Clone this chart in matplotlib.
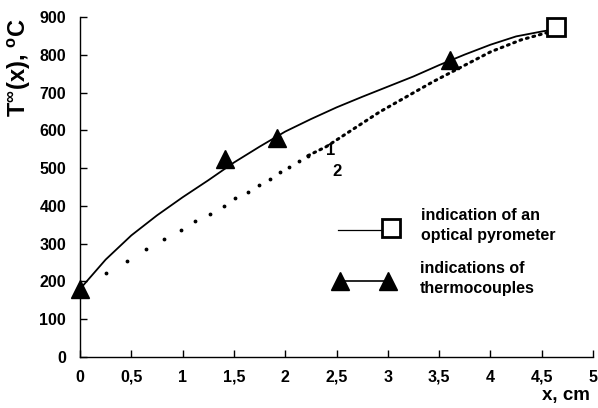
import matplotlib.pyplot as plt
import numpy as np

plt.rcParams['font.family'] = ['Liberation Sans', 'DejaVu Sans']
plt.rcParams['font.weight'] = 'bold'
plt.rcParams['font.size'] = 10
plt.rcParams['mathtext.fontset'] = 'custom'
plt.rcParams['mathtext.rm'] = 'Liberation Sans:bold'
plt.rcParams['mathtext.bf'] = 'Liberation Sans:bold'

# curve 1 (solid, through thermocouple readings)
x1 = [0, 0.25, 0.5, 0.75, 1.0, 1.25, 1.5, 1.75, 2.0, 2.25, 2.5, 2.75, 3.0,
      3.25, 3.5, 3.75, 4.0, 4.25, 4.5, 4.61]
y1 = [180, 258, 322, 375, 423, 468, 515, 557, 597, 630, 661, 689, 716,
      743, 773, 801, 827, 849, 862, 867]

# curve 2 (dotted)
x2 = [0, 0.25, 0.46, 0.64, 0.82, 0.98, 1.12, 1.27, 1.40, 1.51, 1.64, 1.74,
      1.85, 1.95, 2.04, 2.13, 2.22]
y2 = [180, 223, 254, 285, 312, 336, 360, 380, 400, 420, 438, 456,
      472, 489, 504, 519, 533]
x2_tail = [2.22, 2.40, 2.92, 3.44, 3.66, 4.00, 4.30, 4.58]
y2_tail = [533, 557, 649, 729, 760, 808, 840, 861]

# measured points
x_tc = [0, 1.41, 1.92, 3.61]
y_tc = [180, 524, 580, 786]
x_pyro = [4.64]
y_pyro = [874]

xticks = [0, 0.5, 1, 1.5, 2, 2.5, 3, 3.5, 4, 4.5, 5]
xticklabels = ['0', '0,5', '1', '1,5', '2', '2,5', '3', '3,5', '4', '4,5', '5']
yticks = [0, 100, 200, 300, 400, 500, 600, 700, 800, 900]

fig = plt.figure(figsize=(5.98, 4.08), dpi=100)
ax = fig.add_axes([0.1338, 0.125, 0.858, 0.833])

ax.plot(x1, y1, '-', color='black', linewidth=1.3)
ax.plot(x2, y2, '.', color='black', markersize=3.5)
ax.plot(x2_tail, y2_tail, color='black', linewidth=2.2, linestyle=(0, (0.6, 1.6)),
        dash_capstyle='round')
ax.plot(x_tc, y_tc, '^', color='black', markersize=13, clip_on=False)
ax.plot(x_pyro, y_pyro, 's', markerfacecolor='white', markeredgecolor='black',
        markeredgewidth=2, markersize=13, clip_on=False)

ax.text(2.44, 548, '1', fontsize=12, fontweight='bold', ha='center', va='center')
ax.text(2.5, 490, '2', fontsize=12, fontweight='bold', ha='center', va='center')

# legend drawn by hand
ax.plot([0.503, 0.59], [0.3735, 0.3735], '-', color='black', linewidth=0.9,
        transform=ax.transAxes)
ax.plot([0.606], [0.379], 's', markerfacecolor='white', markeredgecolor='black',
        markeredgewidth=2, markersize=13, transform=ax.transAxes)
ax.text(0.665, 0.387, 'indication of an\noptical pyrometer', transform=ax.transAxes,
        fontsize=11.5, fontweight='bold', va='center', linespacing=1.45)
ax.plot([0.507, 0.600], [0.2235, 0.2235], '^-', color='black', markersize=13,
        linewidth=1.2, transform=ax.transAxes)
ax.text(0.663, 0.231, 'indications of\nthermocouples', transform=ax.transAxes,
        fontsize=11.5, fontweight='bold', va='center', linespacing=1.45)

ax.set_xlim(0, 5)
ax.set_ylim(0, 900)
ax.set_xticks(xticks)
ax.set_xticklabels(xticklabels)
ax.set_yticks(yticks)
ax.tick_params(direction='in', length=5, width=1, labelsize=11.5)
ax.tick_params(axis='x', pad=9)
ax.tick_params(axis='y', pad=10)
for lab in ax.get_xticklabels() + ax.get_yticklabels():
    lab.set_fontweight('bold')
ax.spines['top'].set_visible(False)
ax.spines['right'].set_visible(False)
ax.spines['left'].set_linewidth(1)
ax.spines['bottom'].set_linewidth(1)

ax.set_ylabel(r'T$^{\infty}$(x), $^{\rm o}$C', fontsize=17, fontweight='bold')
ax.yaxis.set_label_coords(-0.092, 0.85)
fig.text(0.987, 0.03, 'x, cm', fontsize=13.5, fontweight='bold', ha='right', va='center')

plt.savefig('out.png', dpi=100)
plt.close()
